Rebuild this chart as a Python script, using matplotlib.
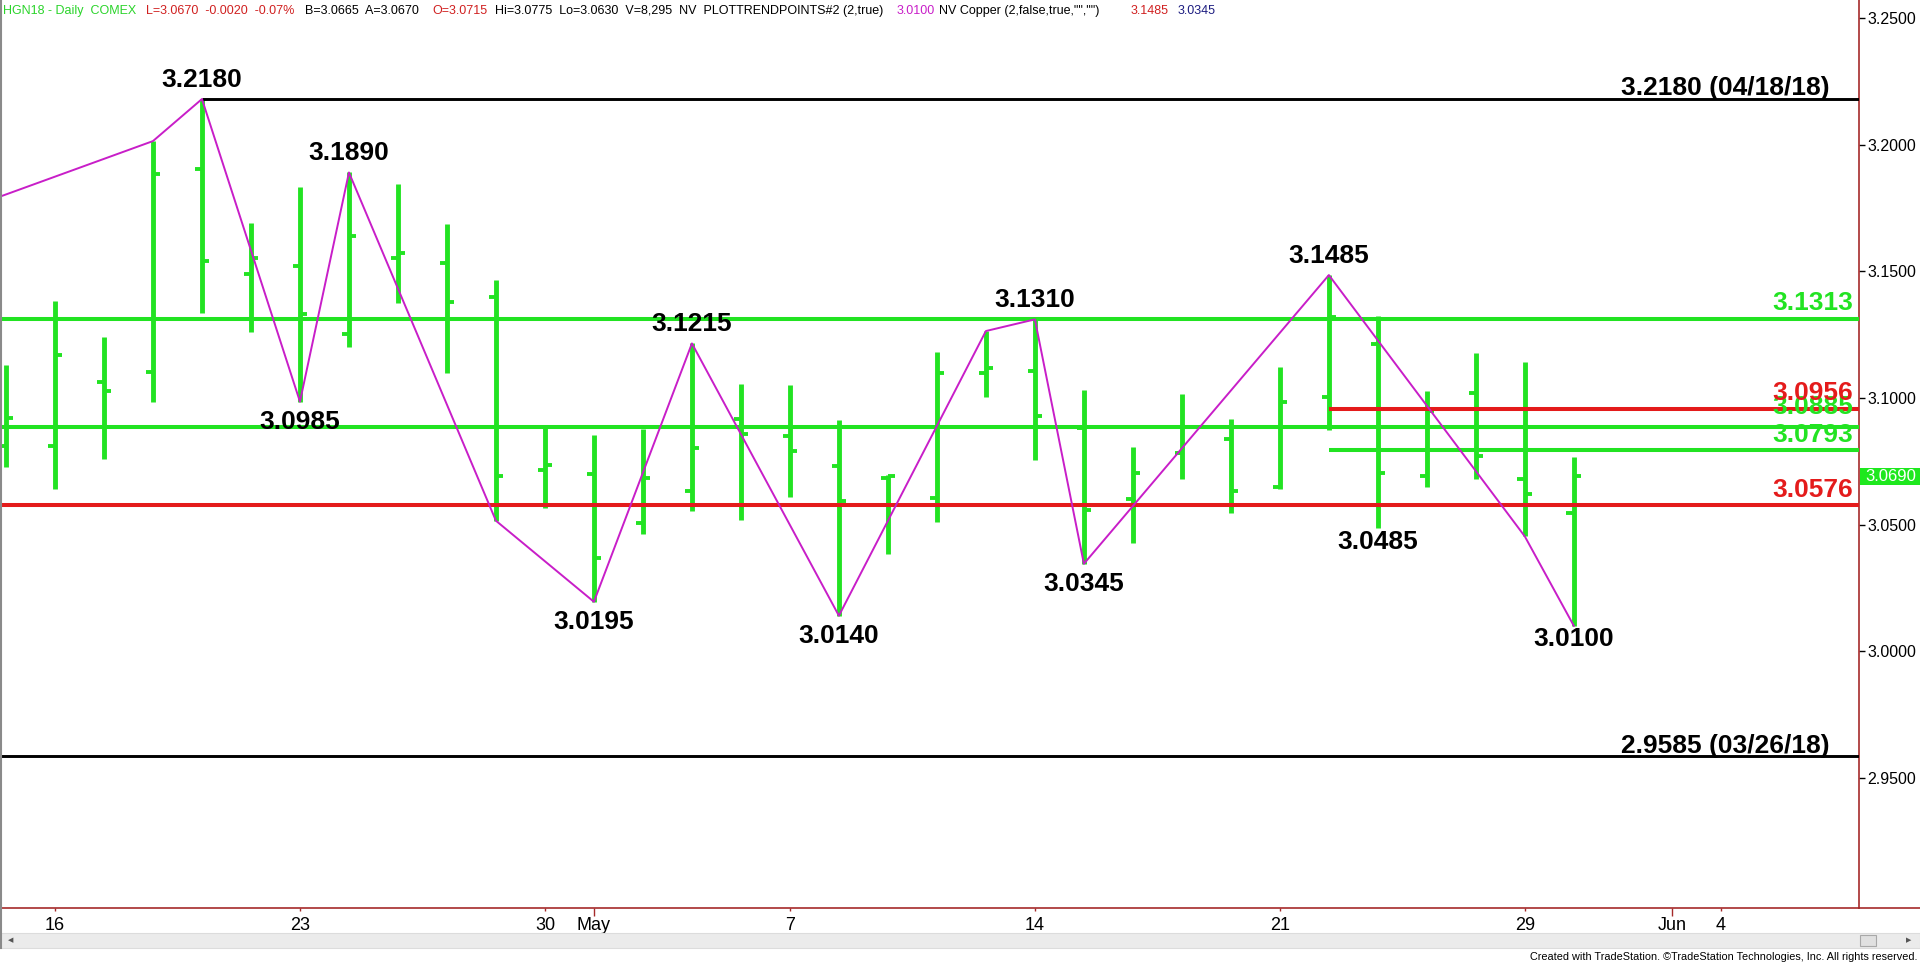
import numpy as np
import matplotlib.pyplot as plt
from matplotlib.patches import Rectangle
from matplotlib.lines import Line2D
from matplotlib.transforms import blended_transform_factory

plt.rcParams['font.family'] = ['Liberation Sans', 'DejaVu Sans']

# daily OHLC bars, Apr 13 .. May 30 (trading days only)
opens = [3.0810, 3.0811, 3.1063, 3.1101, 3.1905, 3.1490, 3.1519, 3.1252, 3.1554, 3.1532,
         3.1400, 3.0716, 3.0701, 3.0508, 3.0633, 3.0916, 3.0848, 3.0733, 3.0685, 3.0606,
         3.1097, 3.1106, 3.0880, 3.0601, 3.0781, 3.0837, 3.0650, 3.1005, 3.1213, 3.0690,
         3.1021, 3.0679, 3.0547]
highs = [3.1130, 3.1384, 3.1242, 3.2014, 3.2180, 3.1692, 3.1834, 3.1890, 3.1846, 3.1686,
         3.1464, 3.0893, 3.0854, 3.0877, 3.1215, 3.1054, 3.1049, 3.0913, 3.0696, 3.1183,
         3.1264, 3.1310, 3.1032, 3.0805, 3.1015, 3.0916, 3.1121, 3.1485, 3.1324, 3.1029,
         3.1178, 3.1143, 3.0768]
lows = [3.0726, 3.0639, 3.0758, 3.0984, 3.1337, 3.1262, 3.0985, 3.1200, 3.1376, 3.1100,
        3.0515, 3.0564, 3.0195, 3.0463, 3.0554, 3.0518, 3.0610, 3.0140, 3.0383, 3.0510,
        3.1003, 3.0755, 3.0345, 3.0426, 3.0679, 3.0545, 3.0640, 3.0874, 3.0485, 3.0648,
        3.0680, 3.0453, 3.0100]
closes = [3.0920, 3.1171, 3.1028, 3.1885, 3.1541, 3.1554, 3.1330, 3.1641, 3.1573, 3.1380,
          3.0693, 3.0736, 3.0369, 3.0685, 3.0803, 3.0857, 3.0789, 3.0591, 3.0690, 3.1100,
          3.1117, 3.0930, 3.0558, 3.0705, 3.0887, 3.0633, 3.0985, 3.1318, 3.0705, 3.0950,
          3.0770, 3.0621, 3.0690]

# x axis labels (bar index -> label)
day_ticks = [1, 6, 11, 16, 21, 26, 31, 35]
day_labels = ['16', '23', '30', '7', '14', '21', '29', '4']
month_ticks = [12, 34]
month_labels = ['May', 'Jun']

# trend points (magenta zigzag)
zz_bar = [-1, 3, 4, 6, 7, 10, 12, 14, 17, 20, 21, 22, 27, 31, 32]
zz_price = [3.1733, 3.2014, 3.2180, 3.0985, 3.1890, 3.0515, 3.0195, 3.1215, 3.0140,
            3.1264, 3.1310, 3.0345, 3.1485, 3.0453, 3.0100]

# swing labels
high_marks = [4, 7, 14, 21, 27]
low_marks = [6, 12, 17, 22]
low_marks_tight = [28, 32]

# horizontal levels
green_levels = [3.1313, 3.0885]
red_levels = [3.0576]
late_red = [3.0956]
late_green = [3.0793]
late_start = 27
old_high, old_high_bar, old_high_txt = 3.2180, 4, '3.2180 (04/18/18)'
old_low, old_low_txt = 2.9585, '2.9585 (03/26/18)'

GREEN = '#22e322'
RED = '#e41b1b'
MAGENTA = '#c81ec8'
AXRED = '#a52a2a'

fig = plt.figure(figsize=(19.2, 9.64), dpi=100)
fig.patch.set_facecolor('white')
ax = fig.add_axes([0, 56 / 964, 1859 / 1920, 908 / 964])

n = len(opens)
xs = np.arange(n)
ax.set_xlim(-0.122, 37.82)
ax.set_ylim(2.8986, 3.2571)

# bars
ax.vlines(xs, lows, highs, color=GREEN, lw=3.5, zorder=2)
ax.hlines(opens, xs - 0.15, xs, color=GREEN, lw=2.8, zorder=2)
ax.hlines(closes, xs, xs + 0.15, color=GREEN, lw=2.8, zorder=2)

# levels
x0, x1 = ax.get_xlim()
for lv in green_levels:
    ax.hlines(lv, x0, x1, color=GREEN, lw=2.9, zorder=3)
for lv in red_levels:
    ax.hlines(lv, x0, x1, color=RED, lw=2.9, zorder=3)
for lv in late_red:
    ax.hlines(lv, late_start, x1, color=RED, lw=2.9, zorder=3)
for lv in late_green:
    ax.hlines(lv, late_start, x1, color=GREEN, lw=2.9, zorder=3)
ax.hlines(old_high, old_high_bar, x1, color='black', lw=2.1, zorder=3)
ax.hlines(old_low, x0, x1, color='black', lw=2.1, zorder=3)

# zigzag
ax.plot(zz_bar, zz_price, color=MAGENTA, lw=1.4, zorder=4)

# swing labels
lab = dict(fontsize=19, fontweight='bold', color='black', ha='center',
           textcoords='offset points', zorder=6, annotation_clip=False)
for i in high_marks:
    ax.annotate(f'{highs[i]:.4f}', (i, highs[i]), xytext=(0, 9), va='baseline', **lab)
for i in low_marks:
    ax.annotate(f'{lows[i]:.4f}', (i, lows[i]), xytext=(0, -6), va='top', **lab)
for i in low_marks_tight:
    ax.annotate(f'{lows[i]:.4f}', (i, lows[i]), xytext=(0, -1), va='top', **lab)

# right-side level labels
rl = dict(xycoords=('axes fraction', 'data'), textcoords='offset points',
          ha='right', va='baseline', fontsize=19, fontweight='bold', zorder=7)
ax.annotate(old_high_txt, (1, old_high), xytext=(-21.5, 3), color='black', **rl)
ax.annotate(old_low_txt, (1, old_low), xytext=(-21.5, 2.5), color='black', **rl)
ax.annotate(f'{green_levels[0]:.4f}', (1, green_levels[0]), xytext=(-4, 6), color=GREEN, **rl)
ax.annotate(f'{green_levels[1]:.4f}', (1, green_levels[1]), xytext=(-4, 9.5), color=GREEN, **rl)
ax.annotate(f'{late_green[0]:.4f}', (1, late_green[0]), xytext=(-4, 6), color=GREEN, **rl)
ax.annotate(f'{late_red[0]:.4f}', (1, late_red[0]), xytext=(-4, 6.5), color=RED, **rl)
ax.annotate(f'{red_levels[0]:.4f}', (1, red_levels[0]), xytext=(-4, 6), color=RED, **rl)

# axes styling
for s in ['top', 'left']:
    ax.spines[s].set_visible(False)
for s in ['bottom', 'right']:
    ax.spines[s].set_color(AXRED)
    ax.spines[s].set_linewidth(1.2)

ax.yaxis.tick_right()
ax.set_yticks(np.arange(2.95, 3.2501, 0.05))
ax.yaxis.set_major_formatter(plt.FormatStrFormatter('%.4f'))
ax.tick_params(axis='y', length=4, width=1, color='black', pad=2, labelsize=11.5)

narrow = ['Liberation Sans Narrow', 'Liberation Sans', 'DejaVu Sans']
ax.set_xticks(day_ticks)
ax.set_xticklabels(day_labels, family=narrow, fontsize=13)
ax.set_xticks(month_ticks, minor=True)
ax.set_xticklabels(month_labels, minor=True, family=narrow, fontsize=13)
ax.tick_params(axis='x', which='major', length=2.5, width=1, color=AXRED, pad=4.3)
ax.tick_params(axis='x', which='minor', length=6, width=1, color=AXRED, pad=0.8)

# last price box
bt = blended_transform_factory(fig.transFigure, ax.transData)
last = closes[-1]
fig.patches.append(Rectangle((1860 / 1920, last - 0.0032), 60 / 1920, 0.0064,
                             transform=bt, facecolor='#1ee81e', edgecolor='none', zorder=5))
fig.text(1865 / 1920, last, f'{last:.4f}', transform=bt, color='white', fontsize=12,
         va='center', ha='left', zorder=6)

# axis line continues to the figure edge
fig.add_artist(Line2D([1859 / 1920, 1], [56 / 964, 56 / 964], color=AXRED, lw=1.2))
# window border and scroll bar
fig.add_artist(Line2D([0.0006, 0.0006], [16 / 964, 1], color='#8a8a8a', lw=1.5))
fig.patches.append(Rectangle((0, 16 / 964), 1, 15 / 964, transform=fig.transFigure,
                             facecolor='#ebebeb', edgecolor='#dcdcdc', lw=0.8))
fig.patches.append(Rectangle((1860 / 1920, 18 / 964), 16 / 1920, 11 / 964,
                             transform=fig.transFigure, facecolor='#e0e0e0',
                             edgecolor='#a8a8a8', lw=0.8))
fig.text(8 / 1920, 23.5 / 964, '◀', fontsize=5, color='#555555', va='center',
         family='DejaVu Sans')
fig.text(1906 / 1920, 23.5 / 964, '▶', fontsize=5, color='#555555', va='center',
         family='DejaVu Sans')
fig.text(1918 / 1920, 7 / 964,
         'Created with TradeStation. ©TradeStation Technologies, Inc. All rights reserved.',
         ha='right', va='center', fontsize=7.8, family=narrow, color='black')

# header line
header = [
    (3, 'HGN18 - Daily  COMEX', '#2bd42b'),
    (146, 'L=3.0670  -0.0020  -0.07%', '#d02020'),
    (305, 'B=3.0665  A=3.0670', 'black'),
    (432, 'O=3.0715', '#d02020'),
    (495, 'Hi=3.0775  Lo=3.0630  V=8,295  NV  PLOTTRENDPOINTS#2 (2,true)', 'black'),
    (897, '3.0100', MAGENTA),
    (939, 'NV Copper (2,false,true,"","")', 'black'),
    (1131, '3.1485', '#d02020'),
    (1178, '3.0345', '#1c1c80'),
]
for px, txt, col in header:
    fig.text(px / 1920, 1 - 14 / 964, txt, color=col, fontsize=9, va='baseline')

fig.savefig('out.png', dpi=100, facecolor='white')
